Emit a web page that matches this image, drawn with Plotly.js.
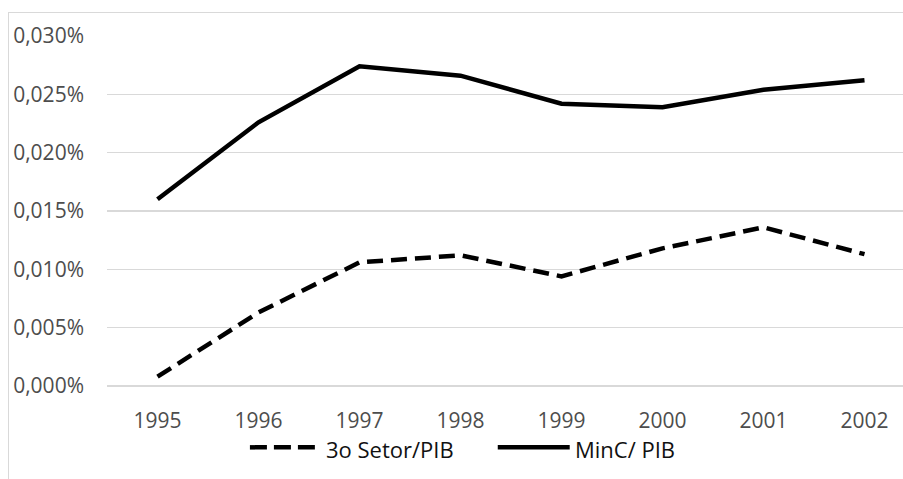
<!DOCTYPE html>
<html>
<head>
<meta charset="utf-8">
<script src="https://cdn.plot.ly/plotly-3.0.1.min.js"></script>
<style>
  html, body { margin: 0; padding: 0; width: 903px; height: 479px; overflow: hidden; background: #fff; }
  #wrap { position: absolute; left: 8px; top: 12px; width: 930px; height: 480px;
          border-left: 1px solid #d9d9d9; border-top: 1px solid #d9d9d9; }
  #chart { width: 930px; height: 480px; }
</style>
</head>
<body>
<div id="wrap"><div id="chart"></div></div>
<script>
// Data (values in percent of GDP)
var years = ['1995', '1996', '1997', '1998', '1999', '2000', '2001', '2002'];
var terceiroSetor = [0.0008, 0.0063, 0.0106, 0.0112, 0.0094, 0.0118, 0.0136, 0.0113];
var minC = [0.0160, 0.0226, 0.0274, 0.0266, 0.0242, 0.0239, 0.0254, 0.0262];
var seriesNames = ['3o Setor/PIB', 'MinC/ PIB'];
var yTicks = [0, 0.005, 0.010, 0.015, 0.020, 0.025, 0.030];
var yTickText = ['0,000%', '0,005%', '0,010%', '0,015%', '0,020%', '0,025%', '0,030%'];

var W = 930, H = 480;
var M = {l: 98, r: 23.5, t: 23, b: 107.3};
var pw = W - M.l - M.r, ph = H - M.t - M.b;
function px(x) { return (x - 9 - M.l) / pw; }          // page px -> paper x
function py(y) { return (H - M.b - (y - 13)) / ph; }    // page px -> paper y

var tickColor = '#4d4d4d';
var legColor = '#111111';
var fontFam = 'Open Sans, sans-serif';

var traces = [
  {x: years, y: terceiroSetor, name: seriesNames[0], type: 'scatter', mode: 'lines',
   line: {color: '#000000', width: 4.5, dash: '16px,8px'}},
  {x: years, y: minC, name: seriesNames[1], type: 'scatter', mode: 'lines',
   line: {color: '#000000', width: 4.5}}
];

var legY = py(447);
var layout = {
  width: W, height: H,
  margin: M,
  paper_bgcolor: 'rgba(0,0,0,0)', plot_bgcolor: 'rgba(0,0,0,0)',
  showlegend: false,
  separators: ',.',
  font: {family: fontFam, size: 21, color: tickColor},
  xaxis: {type: 'category', range: [-0.5, years.length - 0.5], showgrid: false, zeroline: false, showline: false,
          ticks: '', ticklabelstandoff: 20, tickfont: {size: 21, color: tickColor}},
  yaxis: {range: [0, 0.030], tickmode: 'array', tickvals: yTicks, ticktext: yTickText,
          showgrid: true, gridcolor: '#d9d9d9', gridwidth: 1.3,
          zeroline: true, zerolinecolor: '#d9d9d9', zerolinewidth: 1.3,
          showline: false, ticks: '', ticklabelstandoff: 22,
          tickfont: {size: 21, color: tickColor}},
  shapes: [
    {type: 'line', xref: 'paper', yref: 'paper', x0: px(250), x1: px(315), y0: legY, y1: legY,
     line: {color: '#000', width: 4.5, dash: '17px,7px'}},
    {type: 'line', xref: 'paper', yref: 'paper', x0: px(498), x1: px(570), y0: legY, y1: legY,
     line: {color: '#000', width: 4.5}}
  ],
  annotations: [
    {xref: 'paper', yref: 'paper', x: px(324), y: py(449), xanchor: 'left', yanchor: 'middle',
     text: seriesNames[0], showarrow: false, font: {size: 22, color: legColor, family: fontFam}},
    {xref: 'paper', yref: 'paper', x: px(573), y: py(449), xanchor: 'left', yanchor: 'middle',
     text: seriesNames[1], showarrow: false, font: {size: 22, color: legColor, family: fontFam}}
  ]
};

Plotly.newPlot('chart', traces, layout, {displayModeBar: false, staticPlot: true});
</script>
</body>
</html>
